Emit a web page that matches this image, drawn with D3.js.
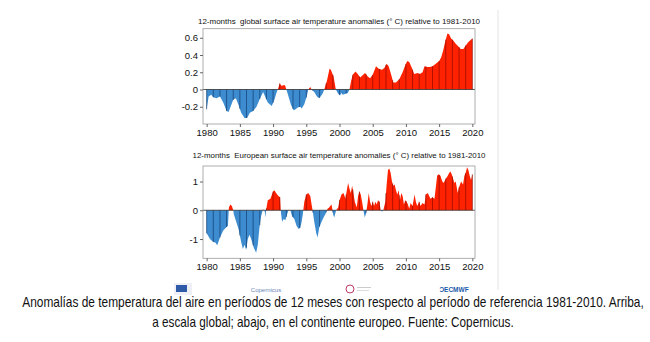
<!DOCTYPE html>
<html><head><meta charset="utf-8">
<script src="https://cdn.jsdelivr.net/npm/d3@7"></script>
<style>
html,body{margin:0;padding:0;background:#fff;}
svg{display:block;}
text{font-family:"Liberation Sans",Arial,Helvetica,sans-serif;}
</style></head>
<body>
<svg id="c" width="650" height="342"></svg>
<script>
// ---- data ----
const globalTitle = "12-months  global surface air temperature anomalies (\u00B0 C) relative to 1981-2010";
const europeTitle = "12-months  European surface air temperature anomalies (\u00B0 C) relative to 1981-2010";
const xTickYears = [1980,1985,1990,1995,2000,2005,2010,2015,2020];
const globalTicks = [-0.2,0,0.2,0.4,0.6];
const europeTicks = [-1,0,1];

const globalYears = [1980.0,1980.3,1980.7,1981.0,1981.5,1982.0,1982.5,1983.0,1983.3,1983.7,1984.0,1984.4,1984.8,1985.2,1985.7,1986.1,1986.5,1987.0,1987.5,1988.0,1988.5,1988.8,1989.2,1989.8,1990.2,1990.5,1990.8,1991.0,1991.3,1991.5,1991.8,1992.0,1992.2,1992.7,1993.1,1993.4,1993.7,1994.1,1994.3,1994.7,1995.1,1995.3,1995.6,1995.8,1996.2,1996.6,1996.95,1997.45,1997.7,1998.1,1998.5,1998.7,1999.1,1999.45,1999.8,2000.1,2000.25,2000.5,2000.9,2001.25,2001.5,2001.75,2002.0,2002.4,2002.75,2003.1,2003.4,2003.85,2004.25,2004.6,2005.0,2005.5,2005.9,2006.4,2006.75,2007.1,2007.4,2007.75,2008.1,2008.5,2009.0,2009.5,2009.9,2010.2,2010.5,2010.9,2011.25,2011.75,2012.1,2012.5,2012.8,2013.25,2013.6,2014.0,2014.5,2015.0,2015.3,2015.6,2015.9,2016.25,2016.5,2016.8,2017.1,2017.5,2017.9,2018.25,2018.65,2019.0,2019.4,2020.0];
const globalValues = [-0.23,-0.08,-0.06,-0.09,-0.10,-0.08,-0.15,-0.25,-0.26,-0.18,-0.12,-0.10,-0.18,-0.27,-0.33,-0.33,-0.27,-0.25,-0.20,-0.11,-0.03,-0.08,-0.15,-0.19,-0.12,-0.04,0.02,0.07,0.04,0.05,0.05,0.00,-0.05,-0.18,-0.24,-0.23,-0.21,-0.20,-0.22,-0.17,-0.07,0.00,0.03,0.00,-0.03,-0.08,-0.10,-0.05,0.00,0.10,0.24,0.23,0.15,0.00,-0.05,-0.07,-0.04,-0.06,-0.05,-0.04,0.00,0.10,0.17,0.21,0.18,0.14,0.16,0.19,0.15,0.13,0.17,0.27,0.24,0.23,0.25,0.30,0.27,0.18,0.08,0.08,0.12,0.20,0.28,0.33,0.32,0.25,0.18,0.19,0.18,0.20,0.27,0.26,0.26,0.27,0.30,0.33,0.37,0.45,0.55,0.65,0.64,0.59,0.57,0.53,0.50,0.47,0.47,0.51,0.55,0.59];

const europeYears = [1980.0,1980.5,1981.0,1981.3,1981.6,1982.0,1982.5,1983.0,1983.2,1983.35,1983.55,1983.8,1984.0,1984.1,1984.45,1984.8,1985.2,1985.45,1985.7,1985.95,1986.2,1986.45,1986.7,1987.1,1987.45,1987.7,1987.95,1988.2,1988.45,1988.6,1988.75,1988.85,1988.95,1989.2,1989.6,1990.0,1990.2,1990.45,1990.8,1991.05,1991.15,1991.35,1991.6,1991.85,1992.1,1992.35,1992.6,1992.85,1993.2,1993.55,1993.85,1994.1,1994.3,1994.5,1994.7,1995.0,1995.3,1995.6,1995.8,1995.95,1996.2,1996.5,1996.7,1996.95,1997.2,1997.6,1997.95,1998.2,1998.45,1998.6,1998.8,1998.95,1999.05,1999.2,1999.5,1999.8,2000.0,2000.3,2000.6,2000.9,2001.1,2001.3,2001.5,2001.7,2001.9,2002.1,2002.3,2002.6,2002.8,2003.0,2003.2,2003.4,2003.6,2003.8,2004.0,2004.2,2004.4,2004.6,2004.8,2005.0,2005.2,2005.4,2005.6,2005.8,2006.0,2006.2,2006.4,2006.6,2006.9,2007.1,2007.3,2007.5,2007.7,2007.9,2008.1,2008.3,2008.5,2008.7,2008.9,2009.1,2009.3,2009.5,2009.7,2009.9,2010.1,2010.3,2010.5,2010.7,2011.0,2011.3,2011.5,2011.7,2012.0,2012.2,2012.5,2012.8,2013.0,2013.3,2013.5,2013.7,2014.0,2014.3,2014.5,2014.7,2014.9,2015.2,2015.4,2015.6,2015.8,2016.0,2016.3,2016.5,2016.7,2016.9,2017.1,2017.3,2017.5,2017.8,2018.0,2018.3,2018.6,2018.8,2019.0,2019.2,2019.4,2019.6,2019.8,2020.0];
const europeValues = [-0.80,-1.00,-1.10,-1.12,-1.22,-0.95,-0.70,-0.58,-0.55,0.10,0.20,0.15,0.00,-0.15,-0.40,-0.65,-1.10,-1.35,-1.20,-1.38,-1.00,-0.85,-1.00,-1.30,-1.48,-1.20,-0.60,-0.20,0.00,0.03,-0.05,-0.25,0.00,0.35,0.40,0.65,0.70,0.60,0.50,0.45,0.00,-0.40,-0.30,-0.35,-0.15,0.02,0.00,-0.20,-0.30,-0.55,-0.65,-0.60,-0.40,-0.10,0.30,0.55,0.60,0.50,0.20,0.00,-0.40,-0.80,-0.95,-0.60,-0.45,-0.25,-0.10,0.05,0.10,0.15,0.20,0.00,-0.15,-0.25,0.00,0.10,0.35,0.55,0.60,0.40,0.70,0.95,0.75,0.60,0.85,0.60,0.30,0.10,0.50,0.65,0.55,0.30,0.00,-0.25,-0.10,0.20,0.60,0.30,0.15,0.30,0.15,0.30,0.20,0.35,0.30,0.00,-0.05,0.00,0.30,0.90,1.40,1.45,1.30,1.00,0.85,0.90,0.70,0.55,0.70,0.35,0.60,0.50,0.20,0.35,0.30,0.20,0.05,0.25,0.15,0.55,0.30,0.15,0.30,0.15,0.25,0.20,0.55,0.60,0.50,0.40,0.45,0.40,0.80,1.20,1.25,1.20,1.05,0.95,1.00,1.10,1.20,1.30,1.35,1.25,1.10,0.95,1.00,0.60,0.80,1.00,0.90,1.20,1.30,1.50,1.40,1.20,1.05,1.25];

const captionLines = [
  "Anomalías de temperatura del aire en períodos de 12 meses con respecto al período de referencia 1981-2010. Arriba,",
  "a escala global; abajo, en el continente europeo. Fuente: Copernicus."
];

// ---- drawing ----
const svg = d3.select("#c");
const RED = "#ff2200", BLUE = "#3d8ccf", DRED = "#8a0a00", DBLUE = "#123a6e";

svg.append("line").attr("x1",498).attr("x2",498).attr("y1",10).attr("y2",290)
  .attr("stroke","#e4e4e4").attr("stroke-width",1);

function panel(opt){
  const {years, values, top, bottom, domain, ticks, title, titleY, titleLen, fmt} = opt;
  const x = d3.scaleLinear().domain([1979.45, 2020.4]).range([203, 475]);
  const y = d3.scaleLinear().domain(domain).range([bottom, top]);
  const g = svg.append("g");
  const pts = years.map((t,i)=>[t, values[i]]);
  const posArea = d3.area().x(d=>x(d[0])).y0(y(0)).y1(d=>y(Math.max(0,d[1])));
  const negArea = d3.area().x(d=>x(d[0])).y0(y(0)).y1(d=>y(Math.min(0,d[1])));
  const dense = [];
  for(let i=0;i<pts.length;i++){
    if(i>0){
      const a=pts[i-1], b=pts[i];
      if((a[1]<0&&b[1]>0)||(a[1]>0&&b[1]<0)){
        const t=a[0]+(b[0]-a[0])*(-a[1])/(b[1]-a[1]);
        dense.push([t,0]);
      }
    }
    dense.push(pts[i]);
  }
  g.append("path").datum(dense).attr("d",negArea).attr("fill",BLUE);
  g.append("path").datum(dense).attr("d",posArea).attr("fill",RED);
  const interp = t => {
    const i = d3.bisectLeft(years, t);
    if(i<=0) return values[0];
    if(i>=years.length) return values[values.length-1];
    const a=years[i-1], b=years[i];
    return values[i-1] + (values[i]-values[i-1])*(t-a)/(b-a);
  };
  const yrs = d3.range(1980, 2021);
  g.selectAll("line.yr").data(yrs).join("line").attr("class","yr")
    .attr("x1",d=>x(d)).attr("x2",d=>x(d))
    .attr("y1",y(0)).attr("y2",d=>y(interp(d)))
    .attr("stroke",d=>interp(d)>=0?DRED:DBLUE).attr("stroke-width",0.9).attr("opacity",0.75);
  g.append("line").attr("x1",203).attr("x2",475).attr("y1",y(0)).attr("y2",y(0))
    .attr("stroke","#333").attr("stroke-width",0.8);
  g.append("rect").attr("x",203).attr("y",top).attr("width",272).attr("height",bottom-top)
    .attr("fill","none").attr("stroke","#9a9a9a").attr("stroke-width",0.8);
  const ya = g.append("g").attr("transform","translate(203,0)")
    .call(d3.axisLeft(y).tickValues(ticks).tickSize(3).tickPadding(2).tickFormat(fmt));
  const xa = g.append("g").attr("transform",`translate(0,${bottom})`)
    .call(d3.axisBottom(x).tickValues(xTickYears).tickSize(3).tickPadding(2).tickFormat(d3.format("d")));
  [ya,xa].forEach(a=>{
    a.select(".domain").remove();
    a.selectAll("line").attr("stroke","#666");
    a.selectAll("text").attr("fill","#111").style("font-size","9.5px")
      .style("font-family","'Liberation Sans',Arial,sans-serif");
  });
  g.append("text").attr("x",339).attr("y",titleY).attr("text-anchor","middle")
    .attr("fill","#111").style("font-size","7.6px").style("white-space","pre")
    .attr("textLength",titleLen).attr("lengthAdjust","spacingAndGlyphs")
    .text(title);
}

panel({years:globalYears, values:globalValues, top:28.7, bottom:124, domain:[-0.40,0.705],
  ticks:globalTicks, title:globalTitle, titleY:24, titleLen:282,
  fmt:d=>d===0?"0":d3.format(".1f")(d).replace("\u2212","-")});
panel({years:europeYears, values:europeValues, top:166, bottom:258.3, domain:[-1.67,1.54],
  ticks:europeTicks, title:europeTitle, titleY:158, titleLen:293,
  fmt:d=>String(d)});

// logos (approximate)
const lg = svg.append("g");
lg.append("rect").attr("x",174).attr("y",283).attr("width",18).attr("height",12).attr("fill","#eef0f5");
lg.append("rect").attr("x",176).attr("y",285).attr("width",11).attr("height",7).attr("fill","#2f5aa8");
lg.append("text").attr("x",266).attr("y",292).attr("text-anchor","middle").attr("fill","#6a86b8")
  .style("font-size","6px").text("Copernicus");
lg.append("circle").attr("cx",350).attr("cy",289).attr("r",4).attr("fill","none").attr("stroke","#c0396a").attr("stroke-width",1);
lg.append("rect").attr("x",357).attr("y",287).attr("width",14).attr("height",1).attr("fill","#ccc");
lg.append("rect").attr("x",357).attr("y",290).attr("width",12).attr("height",1).attr("fill","#ddd");
lg.append("text").attr("x",454).attr("y",291.5).attr("text-anchor","middle").attr("fill","#1a5aa8")
  .style("font-size","6.5px").style("font-weight","bold").text("\u0186ECMWF");

// caption: natural width measured, then squeezed horizontally to the reference width
const capWidths = [622, 362];
const capY = [307, 327];
captionLines.forEach((s,i)=>{
  const t = svg.append("text").attr("text-anchor","middle")
    .style("font-family","'Liberation Sans Narrow','Arial Narrow','Liberation Sans',sans-serif")
    .style("font-size","14px").attr("fill","#111").text(s);
  const w = t.node().getComputedTextLength();
  const k = Math.min(1, capWidths[i]/w);
  t.attr("transform",`translate(333,${capY[i]}) scale(${k},1)`);
});
</script>
</body></html>
